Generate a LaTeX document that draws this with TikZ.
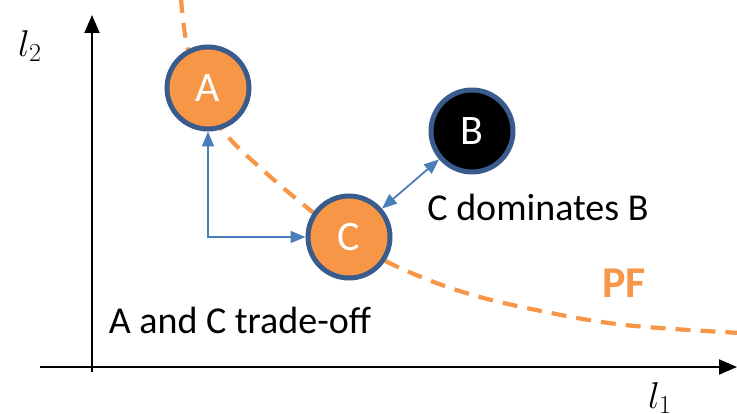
\documentclass[tikz,border=0pt]{standalone}
\usepackage{fontspec}
\setmainfont{Carlito}
\usetikzlibrary{arrows.meta}
\definecolor{pforange}{RGB}{247,150,70}
\definecolor{ringblue}{RGB}{58,92,140}
\definecolor{linkblue}{RGB}{74,126,187}
\newcommand{\axisname}[1]{\scalebox{1.5}{$#1$}}
\begin{document}
\begin{tikzpicture}[x=1pt,y=-1pt,
  pt/.style={circle,draw=ringblue,line width=5pt,minimum size=82pt,inner sep=0pt,
    text=white,font=\fontsize{42}{42}\selectfont},
  link/.style={draw=linkblue,line width=1.8pt,{Triangle[length=15pt,width=12pt]}-{Triangle[length=15pt,width=12pt]}},
  axis/.style={draw=black,line width=2pt,-{Triangle[length=18pt,width=15pt]}},
  axlbl/.style={font=\fontsize{24}{24}\selectfont,inner sep=0pt},
  lbl/.style={font=\fontsize{38}{38}\selectfont,inner sep=0pt}]
\useasboundingbox (0,0) rectangle (737,414);
\clip (0,0) rectangle (737,414);
% axes
\coordinate (xs) at (40,367);
\coordinate (xe) at (737,367);
\coordinate (ys) at (92,372);
\coordinate (ye) at (92,15);
\draw[axis] (xs) -- (xe);
\draw[axis] (ys) -- (ye);
\node[axlbl] (l2) at (30,46) {\axisname{l_2}};
\node[axlbl] (l1) at (660,398) {\axisname{l_1}};
% Pareto front
\draw[pforange,line width=4.2pt,dash pattern=on 15pt off 10pt]
  plot[smooth,tension=0.6] coordinates {(181,-2) (186,40) (200,88) (225,133) (265,172)
    (310,210) (349,240) (400,268) (466,293) (541,311) (625,325) (740,333)};
\node[font=\fontsize{44}{44}\selectfont\bfseries,text=pforange] (pf) at (624,283) {PF};
% solutions
\node[pt,fill=pforange] (A) at (208,88) {A};
\node[pt,fill=black] (B) at (472,131) {B};
\node[pt,fill=pforange] (C) at (349,237) {C};
% relations
\coordinate (corner) at (208,237);
\draw[link] (A) -- (corner) -- (C);
\draw[link] (C) -- (B);
\node[lbl] (dom) at (538,207) {C dominates B};
\node[lbl] (trade) at (240,320) {A and C trade-off};
\end{tikzpicture}
\end{document}
